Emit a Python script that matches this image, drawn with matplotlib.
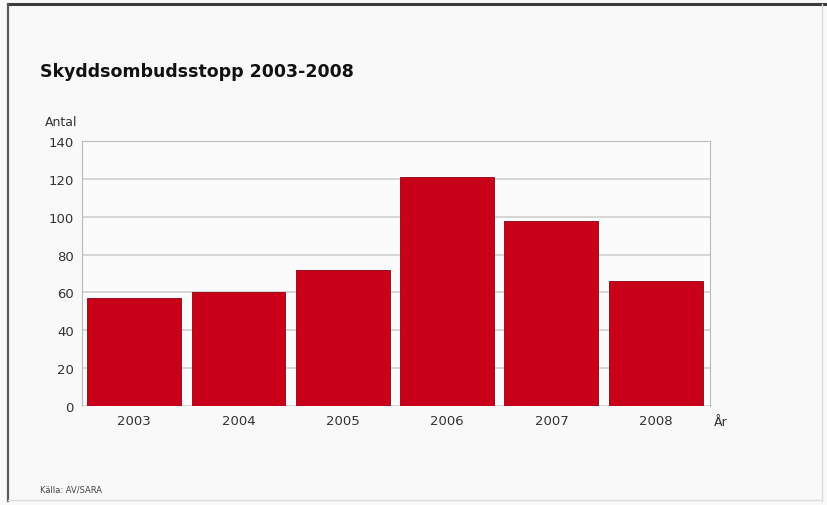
import matplotlib
matplotlib.use("Agg")
import matplotlib.pyplot as plt
from matplotlib.lines import Line2D

years = ["2003", "2004", "2005", "2006", "2007", "2008"]
values = [57, 60, 72, 121, 98, 66]
yticks = [0, 20, 40, 60, 80, 100, 120, 140]

fig = plt.figure(figsize=(8.27, 5.06), dpi=100)
fig.patch.set_facecolor("#f9f9f9")

# outer frame
fig.add_artist(Line2D([8/827, 827/827], [1-5/506, 1-5/506], color="#3a3a3a", lw=2.2, transform=fig.transFigure))
fig.add_artist(Line2D([8/827, 8/827], [1-5/506, 1-502/506], color="#5a5a5a", lw=1.6, transform=fig.transFigure))
fig.add_artist(Line2D([822/827, 822/827], [1-5/506, 1-502/506], color="#dddddd", lw=1.0, transform=fig.transFigure))
fig.add_artist(Line2D([8/827, 822/827], [1-501/506, 1-501/506], color="#dddddd", lw=1.0, transform=fig.transFigure))

ax = fig.add_axes([82/827, 1-407/506, (710-82)/827, (407-142)/506])
ax.set_facecolor("#fbfbfb")
x = list(range(len(years)))
ax.bar(x, values, width=0.9, color="#c9001a", edgecolor="#8a0010", linewidth=0.6, zorder=3)
ax.set_xlim(-0.5, 5.52)
ax.set_ylim(0, 140)
ax.set_yticks(yticks)
ax.set_xticks(x)
ax.set_xticklabels(years)
ax.yaxis.grid(True, color="#cfcfcf", lw=1.2, zorder=0)
for s in ["left", "right", "top"]:
    ax.spines[s].set_color("#bbbbbb")
ax.spines["bottom"].set_visible(False)
ax.tick_params(axis="both", colors="#333333", labelsize=9.5, length=0, pad=6)
ax.tick_params(axis="y", pad=6)

fig.text(40/827, 1-72/506, "Skyddsombudsstopp 2003-2008", fontsize=12.5, fontweight="bold",
         color="#111111", va="center", ha="left")
fig.text(45/827, 1-123/506, "Antal", fontsize=9, color="#333333", va="center", ha="left")
fig.text(714/827, 1-423/506, "År", fontsize=9, color="#333333", va="center", ha="left")
fig.text(40/827, 1-490/506, "Källa: AV/SARA", fontsize=6, color="#444444", va="center", ha="left")

fig.savefig("out.png", dpi=100, facecolor=fig.get_facecolor())
